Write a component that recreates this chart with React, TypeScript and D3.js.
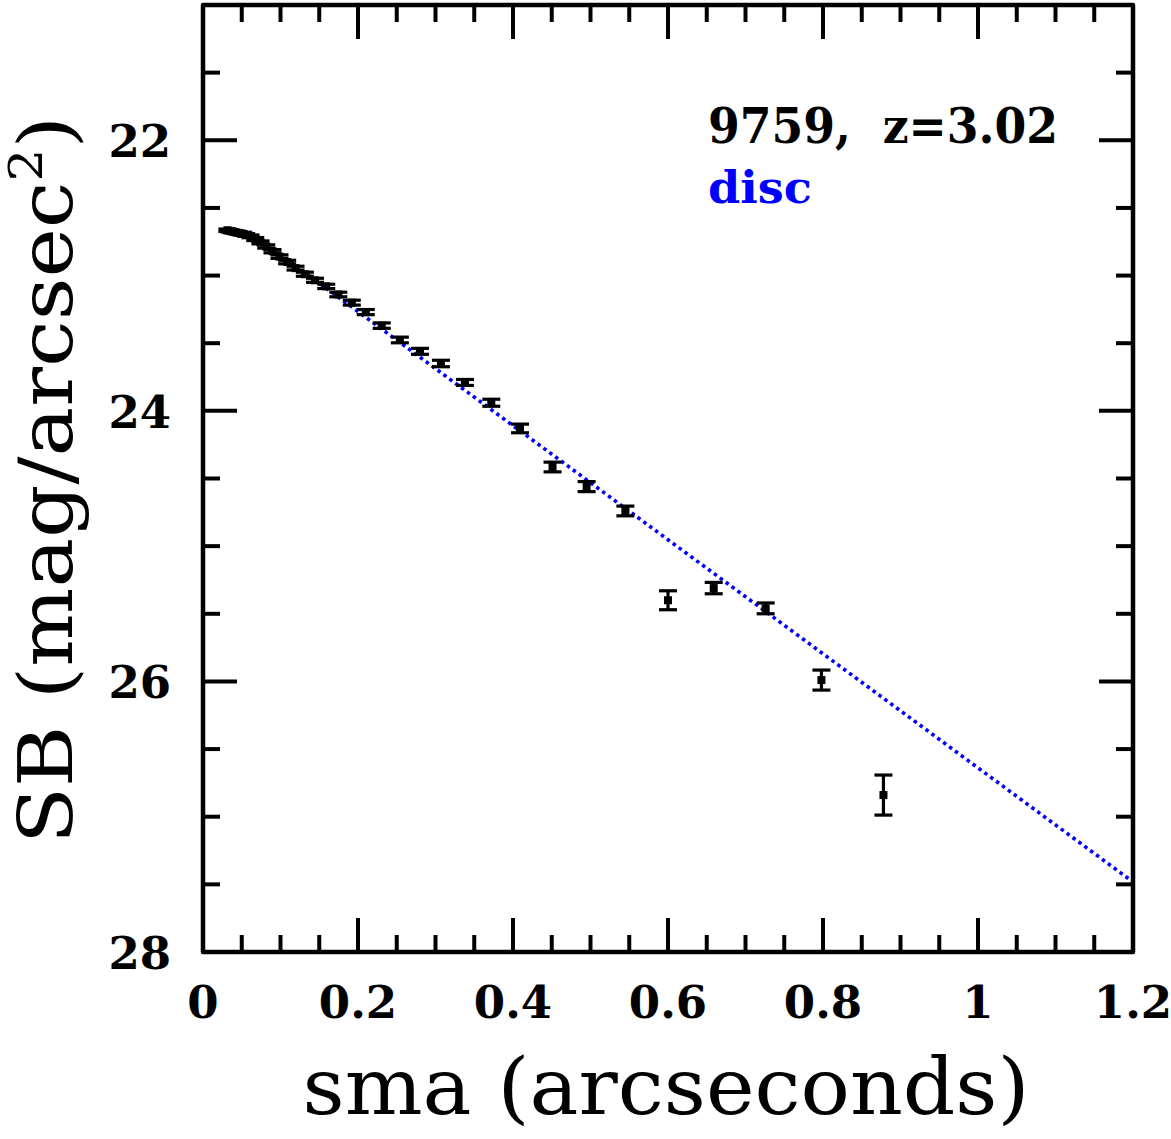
import React from "react";
import * as d3 from "d3";

// ---- data ----
const smaValues = [0.0315, 0.0346, 0.0381, 0.0419, 0.0461, 0.0507, 0.0557, 0.0613, 0.0674, 0.0742, 0.0816, 0.0897, 0.0987, 0.1086, 0.1194, 0.1314, 0.1445, 0.159, 0.1746, 0.192, 0.21, 0.2306, 0.254, 0.28, 0.307, 0.338, 0.372, 0.409, 0.451, 0.495, 0.545, 0.6, 0.659, 0.726, 0.798, 0.878];
const sbValues = [22.665, 22.67, 22.675, 22.68, 22.685, 22.69, 22.7, 22.71, 22.73, 22.755, 22.785, 22.82, 22.86, 22.9, 22.945, 22.99, 23.035, 23.08, 23.14, 23.2, 23.27, 23.37, 23.476, 23.56, 23.65, 23.79, 23.94, 24.13, 24.415, 24.56, 24.74, 25.4, 25.31, 25.46, 25.99, 26.84];
const sbErrors = [0.009, 0.009, 0.009, 0.009, 0.009, 0.01, 0.01, 0.01, 0.011, 0.011, 0.012, 0.012, 0.013, 0.013, 0.014, 0.015, 0.015, 0.016, 0.017, 0.018, 0.019, 0.02, 0.021, 0.022, 0.024, 0.022, 0.026, 0.032, 0.036, 0.037, 0.036, 0.07, 0.042, 0.04, 0.074, 0.148];
const discModelX = [0.06, 1.2];
const discModelY = [22.676, 27.482];
const xTickValues = [0, 0.2, 0.4, 0.6, 0.8, 1, 1.2];
const xTickLabels = ["0", "0.2", "0.4", "0.6", "0.8", "1", "1.2"];
const yTickValues = [22, 24, 26, 28];
const yTickLabels = ["22", "24", "26", "28"];
const xMinorStep = 0.05;
const yMinorStep = 0.5;
const titleText = "9759,  z=3.02";
const componentText = "disc";

const W = 1171;
const H = 1139;
const left = 203, right = 1133, top = 5, bottom = 952;

export default function App() {
  const x = d3.scaleLinear().domain([0, 1.2]).range([left, right]);
  const y = d3.scaleLinear().domain([21, 28]).range([top, bottom]);

  const xMinor = d3.range(0, 1.2 + 1e-9, xMinorStep);
  const yMinor = d3.range(21, 28 + 1e-9, yMinorStep);
  const isMajorX = (v: number) => xTickValues.some((t) => Math.abs(t - v) < 1e-6);
  const isMajorY = (v: number) => yTickValues.some((t) => Math.abs(t - v) < 1e-6);

  const line = d3
    .line<number>()
    .x((_, i) => x(discModelX[i]))
    .y((d) => y(d));

  const tickStroke = 4;
  const majorLen = 34;
  const minorLen = 17;
  const capHalf = 9;
  const markerSize = 8;

  return (
    <svg width={W} height={H} style={{ display: "block", position: "absolute", left: 0, top: 0 }}>
      <rect x={0} y={0} width={W} height={H} fill="white" />
      <defs>
        <clipPath id="plotclip">
          <rect x={left} y={top} width={right - left} height={bottom - top} />
        </clipPath>
      </defs>

      {/* ticks */}
      {xMinor.map((v, i) => {
        const len = isMajorX(v) ? majorLen : minorLen;
        const px = x(v);
        return (
          <g key={"xt" + i} stroke="black" strokeWidth={tickStroke}>
            <line x1={px} x2={px} y1={bottom} y2={bottom - len} />
            <line x1={px} x2={px} y1={top} y2={top + len} />
          </g>
        );
      })}
      {yMinor.map((v, i) => {
        const len = isMajorY(v) ? majorLen : minorLen;
        const py = y(v);
        return (
          <g key={"yt" + i} stroke="black" strokeWidth={tickStroke}>
            <line x1={left} x2={left + len} y1={py} y2={py} />
            <line x1={right} x2={right - len} y1={py} y2={py} />
          </g>
        );
      })}

      {/* model line */}
      <g clipPath="url(#plotclip)">
        <path
          d={line(discModelY) || ""}
          fill="none"
          stroke="#0000ff"
          strokeWidth={3.6}
          strokeDasharray="3.5,3.8"
        />
      </g>

      {/* data points */}
      {smaValues.map((s, i) => {
        const px = x(s);
        const py = y(sbValues[i]);
        const y1 = y(sbValues[i] - sbErrors[i]);
        const y2 = y(sbValues[i] + sbErrors[i]);
        return (
          <g key={"p" + i} stroke="black" strokeWidth={3.2}>
            <line x1={px} x2={px} y1={y1} y2={y2} />
            <line x1={px - capHalf} x2={px + capHalf} y1={y1} y2={y1} />
            <line x1={px - capHalf} x2={px + capHalf} y1={y2} y2={y2} />
            <rect
              x={px - markerSize / 2}
              y={py - markerSize / 2}
              width={markerSize}
              height={markerSize}
              fill="black"
              stroke="none"
            />
          </g>
        );
      })}

      {/* frame */}
      <rect
        x={left}
        y={top}
        width={right - left}
        height={bottom - top}
        fill="none"
        stroke="black"
        strokeWidth={4.5}
        strokeLinejoin="round"
      />

      {/* tick labels */}
      {xTickValues.map((v, i) => (
        <text
          key={"xl" + i}
          x={x(v)}
          y={1018}
          textAnchor="middle"
          fontFamily="'DejaVu Serif', serif"
          fontWeight="bold"
          fontSize={45}
          fill="black"
        >
          {xTickLabels[i]}
        </text>
      ))}
      {yTickValues.map((v, i) => (
        <text
          key={"yl" + i}
          x={171}
          y={y(v) + 17}
          textAnchor="end"
          fontFamily="'DejaVu Serif', serif"
          fontWeight="bold"
          fontSize={45}
          fill="black"
        >
          {yTickLabels[i]}
        </text>
      ))}

      {/* axis titles */}
      <text
        x={666}
        y={1114}
        textAnchor="middle"
        fontFamily="'DejaVu Serif', serif"
        fontSize={78}
        fill="black"
        textLength={727}
        lengthAdjust="spacingAndGlyphs"
      >
        sma (arcseconds)
      </text>
      <text
        transform="translate(72,480) rotate(-90)"
        textAnchor="middle"
        fontFamily="'DejaVu Serif', serif"
        fontSize={74}
        fill="black"
        textLength={728}
        lengthAdjust="spacingAndGlyphs"
      >
        SB (mag/arcsec
        <tspan fontSize={46} dy={-30}>2</tspan>
        <tspan dy={30}>)</tspan>
      </text>

      {/* annotations */}
      <text
        x={708}
        y={143}
        fontFamily="'DejaVu Serif', serif"
        fontWeight="bold"
        fontSize={48}
        fill="black"
        textLength={350}
        lengthAdjust="spacingAndGlyphs"
        style={{ whiteSpace: "pre" }}
      >
        {titleText}
      </text>
      <text
        x={708}
        y={203}
        fontFamily="'DejaVu Serif', serif"
        fontWeight="bold"
        fontSize={44}
        fill="#0000ff"
        textLength={104}
        lengthAdjust="spacingAndGlyphs"
      >
        {componentText}
      </text>
    </svg>
  );
}
